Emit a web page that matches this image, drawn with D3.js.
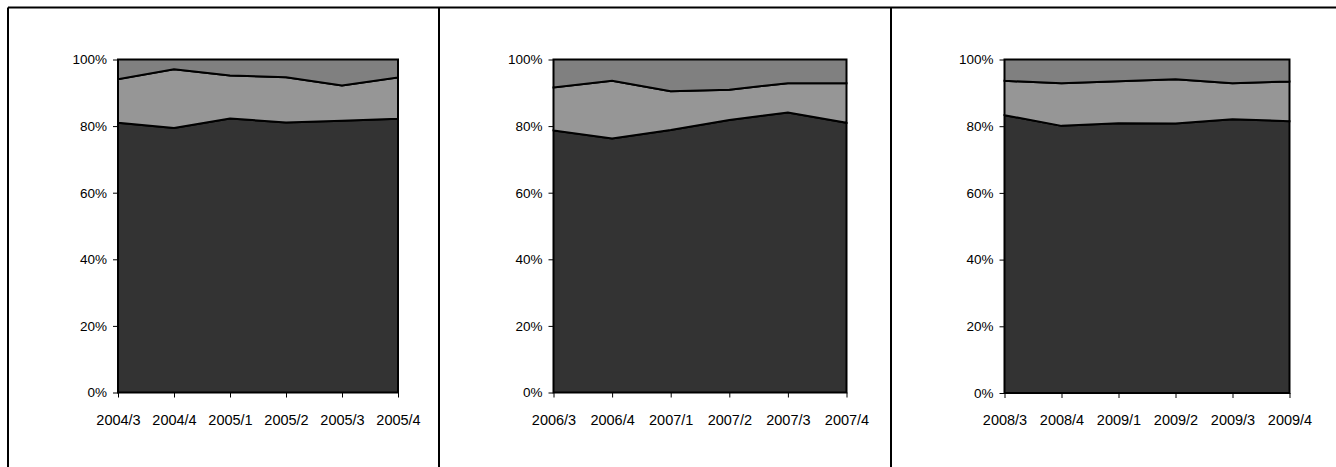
<!DOCTYPE html>
<html><head><meta charset="utf-8">
<script src="https://cdn.jsdelivr.net/npm/d3@7"></script>
<style>body{margin:0;background:#fff}svg{display:block}</style>
</head><body>
<svg id="c" width="1336" height="467"></svg>
<script>
const categories1 = ["2004/3","2004/4","2005/1","2005/2","2005/3","2005/4"];
const categories2 = ["2006/3","2006/4","2007/1","2007/2","2007/3","2007/4"];
const categories3 = ["2008/3","2008/4","2009/1","2009/2","2009/3","2009/4"];
// three stacked shares per panel (bottom, middle, top)
const bottom1 = [81.0, 79.4, 82.3, 81.1, 81.6, 82.2];
const middle1 = [13.1, 17.7, 12.9, 13.6, 10.6, 12.4];
const top1    = [5.9, 2.9, 4.8, 5.3, 7.8, 5.4];
const bottom2 = [78.7, 76.3, 78.8, 81.8, 84.1, 81.0];
const middle2 = [12.9, 17.3, 11.7, 9.1, 8.8, 11.9];
const top2    = [8.4, 6.4, 9.5, 9.1, 7.1, 7.1];
const bottom3 = [83.3, 80.1, 80.9, 80.8, 82.1, 81.5];
const middle3 = [10.3, 12.8, 12.6, 13.3, 10.8, 11.9];
const top3    = [6.4, 7.1, 6.5, 5.9, 7.1, 6.6];
const yTicks = [0, 0.2, 0.4, 0.6, 0.8, 1];

const panels = [
  {cats: categories1, s: [bottom1, middle1, top1], x0: 118, x1: 398, y0: 392.5, y1: 59.5},
  {cats: categories2, s: [bottom2, middle2, top2], x0: 553.5, x1: 846.5, y0: 392.5, y1: 59.5},
  {cats: categories3, s: [bottom3, middle3, top3], x0: 1004.5, x1: 1289.5, y0: 393, y1: 59.5}
];
const colors = ["#333333", "#969696", "#808080"];
const svg = d3.select("#c");

// frame lines
const frame = svg.append("g").attr("stroke", "#000").attr("stroke-width", 2).attr("fill", "none");
frame.append("line").attr("x1", 8).attr("x2", 1340).attr("y1", 7.5).attr("y2", 7.5);
[8, 439, 891].forEach(x => frame.append("line").attr("x1", x).attr("x2", x).attr("y1", 7.5).attr("y2", 470));

panels.forEach(p => {
  const rows = p.cats.map((c, i) => ({cat: c, a: p.s[0][i], b: p.s[1][i], c: p.s[2][i]}));
  const stack = d3.stack().keys(["a", "b", "c"]).offset(d3.stackOffsetExpand);
  const layers = stack(rows);
  const x = d3.scalePoint().domain(p.cats).range([p.x0, p.x1]);
  const y = d3.scaleLinear().domain([0, 1]).range([p.y0, p.y1]);
  const g = svg.append("g");
  const area = d3.area().x(d => x(d.data.cat)).y0(d => y(d[0])).y1(d => y(d[1]));
  g.selectAll("path.layer").data(layers).join("path")
    .attr("class", "layer")
    .attr("d", area)
    .attr("fill", (d, i) => colors[i])
    .attr("stroke", "#000").attr("stroke-width", 2).attr("stroke-linejoin", "miter");

  const ya = d3.axisLeft(y).tickValues(yTicks).tickFormat(d3.format(".0%")).tickSize(5).tickPadding(6);
  const yg = g.append("g").attr("transform", `translate(${p.x0},0)`).call(ya);
  yg.select(".domain").remove();
  yg.selectAll("text").attr("font-family", "Liberation Sans, Arial, sans-serif").attr("font-size", "13.5px").attr("fill", "#000");
  yg.selectAll("line").attr("stroke", "#000");

  const xa = d3.axisBottom(x).tickSize(5).tickPadding(17);
  const xg = g.append("g").attr("transform", `translate(0,${p.y0})`).call(xa);
  xg.select(".domain").remove();
  xg.selectAll("text").attr("font-family", "Liberation Sans, Arial, sans-serif").attr("font-size", "14.5px").attr("fill", "#000");
  xg.selectAll("line").attr("stroke", "#000");
});
</script>
</body></html>
